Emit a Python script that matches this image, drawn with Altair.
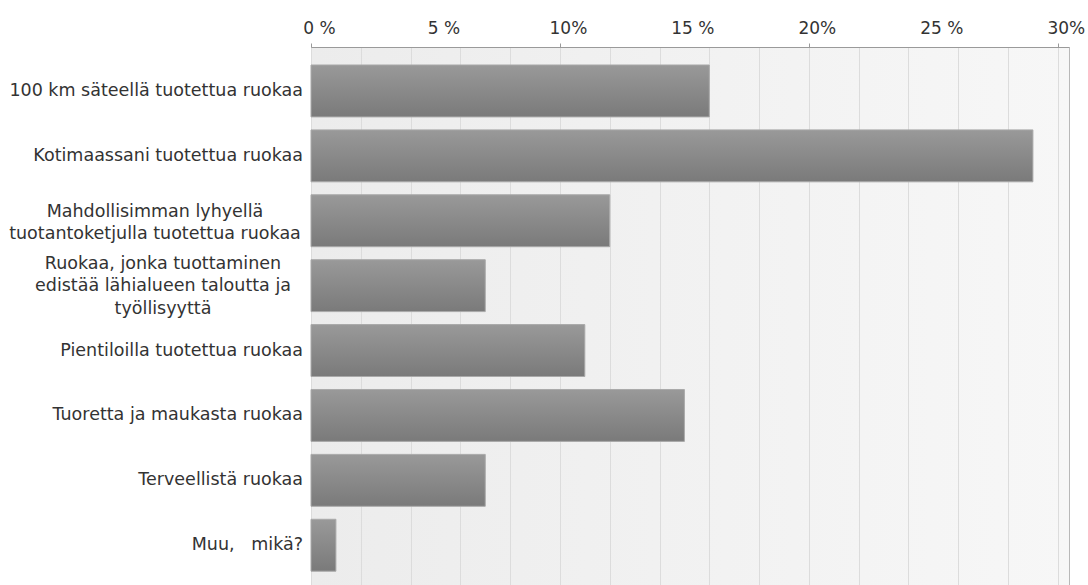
import altair as alt
import pandas as pd

# ---- data ----
categories = [
    "100 km säteellä tuotettua ruokaa",
    "Kotimaassani tuotettua ruokaa",
    "Mahdollisimman lyhyellä tuotantoketjulla tuotettua ruokaa",
    "Ruokaa, jonka tuottaminen edistää lähialueen taloutta ja työllisyyttä",
    "Pientiloilla tuotettua ruokaa",
    "Tuoretta ja maukasta ruokaa",
    "Terveellistä ruokaa",
    "Muu,   mikä?",
]
shares = [16, 29, 12, 7, 11, 15, 7, 1]

wrapped_lines = {
    "Mahdollisimman lyhyellä tuotantoketjulla tuotettua ruokaa": [
        "Mahdollisimman lyhyellä",
        "tuotantoketjulla tuotettua ruokaa",
    ],
    "Ruokaa, jonka tuottaminen edistää lähialueen taloutta ja työllisyyttä": [
        "Ruokaa, jonka tuottaminen",
        "edistää lähialueen taloutta ja",
        "työllisyyttä",
    ],
}

tick_values = [0, 5, 10, 15, 20, 25, 30]
tick_labels = ["0 %", "5 %", "10%", "15 %", "20%", "25 %", "30%"]
grid_values = list(range(0, 31, 2))

# ---- style ----
FONT = "DejaVu Sans"
FS = 17
FS_CAT = 17.5
TXT = "#333333"
W, H = 758, 538

df = pd.DataFrame({"category": categories, "share": shares})
single_df = df[~df["category"].isin(list(wrapped_lines))][["category"]]
lab_df = pd.DataFrame({
    "category": list(wrapped_lines.keys()),
    "text": ["\n".join(v) for v in wrapped_lines.values()],
})

axis_values = sorted(set(tick_values) | set(grid_values))
label_expr = "''"
for v, t in reversed(list(zip(tick_values, tick_labels))):
    label_expr = f"datum.value == {v} ? '{t}' : ({label_expr})"

x_scale = alt.Scale(domain=[0, 30.45], nice=False, zero=True)
y_scale = alt.Scale(domain=categories, paddingInner=0.2, paddingOuter=0.245, align=0.566)

x_axis = alt.Axis(
    orient="top",
    values=axis_values,
    labelExpr=label_expr,
    title=None,
    labelFont=FONT,
    labelFontSize=FS,
    labelColor=TXT,
    labelAlign="center",
    labelBaseline="alphabetic",
    labelOffset=8,
    labelPadding=10,
    labelOverlap=False,
    labelFlush=False,
    domainColor="#9a9a9a",
    tickColor="#9a9a9a",
    tickSize=4,
    tickOpacity={"condition": {"test": "datum.value % 10 == 0", "value": 1}, "value": 0},
    grid=True,
    gridColor="#dcdcdc",
    gridOpacity={"condition": {"test": "datum.value % 2 == 0", "value": 1}, "value": 0},
)

y_axis = alt.Axis(
    title=None,
    ticks=False,
    grid=False,
    labels=False,
    domainColor="#9a9a9a",
)

bar_gradient = alt.Gradient(
    gradient="linear",
    stops=[
        alt.GradientStop(color="#999999", offset=0),
        alt.GradientStop(color="#7a7a7a", offset=1),
    ],
    x1=0, x2=0, y1=0, y2=1,
)

bars = alt.Chart(df).mark_bar(
    color=bar_gradient, stroke="#a9a9a9", strokeWidth=1
).encode(
    x=alt.X("share:Q", scale=x_scale, axis=x_axis),
    y=alt.Y("category:N", sort=None, scale=y_scale, axis=y_axis),
)

# single-line category labels, right-aligned next to the plot
# (runs of spaces kept visible with non-breaking spaces)
single_labels = alt.Chart(single_df).transform_calculate(
    shown="replace(datum.category, regexp('  ', 'g'), '\u00a0\u00a0')"
).mark_text(
    align="right", baseline="middle", font=FONT, fontSize=FS_CAT, color=TXT,
).encode(
    y=alt.Y("category:N", sort=None, scale=y_scale, axis=None),
    x=alt.value(-8),
    text="shown:N",
)

# wrapped labels: centre of each block (relative to plot's left edge) and vertical shift
label_place = {
    "Mahdollisimman lyhyellä tuotantoketjulla tuotettua ruokaa": (-156, -9),
    "Ruokaa, jonka tuottaminen edistää lähialueen taloutta ja työllisyyttä": (-148, -22),
}
text_layers = []
for cat, (cx, dy) in label_place.items():
    text_layers.append(
        alt.Chart(lab_df).transform_filter(alt.datum.category == cat).mark_text(
            align="center", baseline="middle", lineBreak="\n", lineHeight=22.5,
            font=FONT, fontSize=FS_CAT, color=TXT, dy=dy,
        ).encode(
            y=alt.Y("category:N", sort=None, scale=y_scale, axis=None),
            x=alt.value(cx),
            text="text:N",
        )
    )

bg_expr = ("{gradient: 'linear', x1: 0, y1: 0, x2: 1, y2: 0, "
           "stops: [{offset: 0, color: '#ececec'}, {offset: 1, color: '#f7f7f7'}]}")

chart = alt.layer(bars, single_labels, *text_layers).properties(
    width=W,
    height=H,
    autosize=alt.AutoSizeParams(type="none"),
    padding={"left": 311, "top": 47, "right": 19, "bottom": 0},
    background="white",
).configure_view(
    stroke="#b8b8b8",
    fill=alt.ExprRef(expr=bg_expr),
)

chart.save("out.html", embed_options={"renderer": "svg", "actions": False})
